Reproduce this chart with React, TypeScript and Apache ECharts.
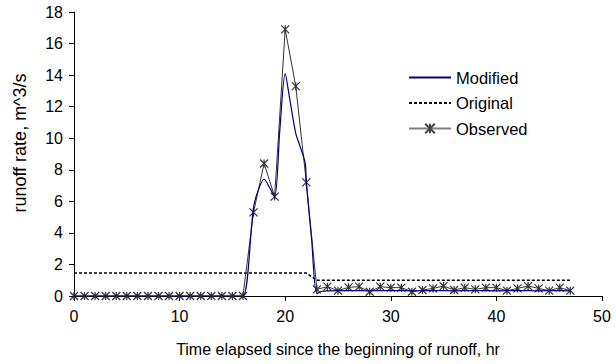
import React, { useEffect, useRef } from "react";
import * as echarts from "echarts";

const hours = Array.from({ length: 48 }, (_, i) => i);
const observedValues = [
  0, 0, 0, 0, 0, 0, 0, 0, 0, 0, 0, 0, 0, 0, 0, 0, 0,
  5.3, 8.4, 6.3, 16.9, 13.3, 7.2, 0.42,
  0.59, 0.34, 0.55, 0.59, 0.27, 0.59, 0.53, 0.53, 0.27, 0.38, 0.48, 0.63,
  0.38, 0.53, 0.42, 0.53, 0.53, 0.34, 0.48, 0.63, 0.48, 0.34, 0.53, 0.34,
];
const modifiedTimes = [
  0, 1, 2, 3, 4, 5, 6, 7, 8, 9, 10, 11, 12, 13, 14, 15, 16,
  17, 17.5, 18, 18.5, 19, 19.5, 20, 20.4, 21, 21.4, 21.9, 22, 22.5, 23, 23.5, 24,
  26, 28, 30, 32, 34, 36, 38, 40, 42, 44, 46, 47,
];
const modifiedValues = [
  0, 0, 0, 0, 0, 0, 0, 0, 0, 0, 0, 0, 0, 0, 0, 0, 0,
  5.6, 6.8, 7.4, 6.9, 6.3, 10.6, 14.1, 12.6, 10.3, 9.5, 8.4, 7.2, 3.6, 0.15, 0.3, 0.33,
  0.34, 0.33, 0.34, 0.33, 0.34, 0.33, 0.34, 0.33, 0.34, 0.33, 0.34, 0.33,
];
const originalTimes = [0, 22, 23, 47];
const originalValues = [1.45, 1.45, 1.0, 1.0];

const xTicks = { min: 0, max: 50, interval: 10 };
const yTicks = { min: 0, max: 18, interval: 2 };
const yTitle = "runoff rate, m^3/s";
const xTitle = "Time elapsed since the beginning of runoff, hr";

const FONT = "Liberation Sans";

export default function App() {
  const ref = useRef<HTMLDivElement>(null);
  useEffect(() => {
    document.body.style.margin = "0";
    if (!ref.current) return;
    const chart = echarts.init(ref.current, undefined, { renderer: "svg" });
    const star = "path://M0 0L10 10M10 0L0 10M5 0L5 10";
    chart.setOption({
      animation: false,
      backgroundColor: "#fff",
      textStyle: { fontFamily: FONT },
      grid: { left: 74, right: 14, top: 12, bottom: 68 },
      graphic: [
        {
          type: "text",
          x: 20,
          y: 143,
          rotation: Math.PI / 2,
          style: {
            text: yTitle,
            fontFamily: FONT,
            fontSize: 18,
            fill: "#000",
            align: "center",
            verticalAlign: "middle",
          },
        },
      ],
      legend: {
        orient: "vertical",
        left: 403,
        top: 64,
        itemWidth: 42,
        itemHeight: 12,
        itemGap: 8.5,
        textStyle: { fontFamily: FONT, fontSize: 16.5, color: "#000" },
        data: [
          { name: "Modified", itemStyle: { opacity: 0 } },
          { name: "Original", itemStyle: { opacity: 0 } },
          { name: "Observed", lineStyle: { color: "#808080", width: 2 }, itemStyle: { borderColor: "#444" } },
        ],
      },
      xAxis: {
        type: "value",
        ...xTicks,
        name: xTitle,
        nameLocation: "middle",
        nameGap: 45,
        nameTextStyle: { fontFamily: FONT, fontSize: 16, color: "#000" },
        axisLine: { show: true, lineStyle: { color: "#000", width: 1 } },
        axisTick: { show: true, length: 5, lineStyle: { color: "#000" } },
        axisLabel: { fontFamily: FONT, fontSize: 16, color: "#000", margin: 12 },
        splitLine: { show: false },
      },
      yAxis: {
        type: "value",
        ...yTicks,
        axisLine: { show: true, lineStyle: { color: "#000", width: 1 } },
        axisTick: { show: true, length: 5, lineStyle: { color: "#000" } },
        axisLabel: { fontFamily: FONT, fontSize: 16, color: "#000", margin: 11 },
        splitLine: { show: false },
      },
      series: [
        {
          name: "Original",
          type: "line",
          symbol: "none",
          data: originalTimes.map((t, i) => [t, originalValues[i]]),
          lineStyle: { color: "#000", width: 1.5, type: [3, 2] },
          itemStyle: { color: "#000" },
          z: 1,
        },
        {
          name: "Observed",
          type: "line",
          symbol: star,
          symbolSize: 8,
          data: hours.map((t, i) => [t, observedValues[i]]),
          lineStyle: { color: "#333", width: 1 },
          itemStyle: { color: "#555", borderColor: "#333", borderWidth: 1.2 },
          z: 2,
        },
        {
          name: "Modified",
          type: "line",
          symbol: "none",
          smooth: 0.3,
          data: modifiedTimes.map((t, i) => [t, modifiedValues[i]]),
          lineStyle: { color: "#000080", width: 1.2 },
          itemStyle: { color: "#000080" },
          z: 3,
        },
      ],
    });
    return () => chart.dispose();
  }, []);
  return <div ref={ref} style={{ width: 616, height: 364 }} />;
}
